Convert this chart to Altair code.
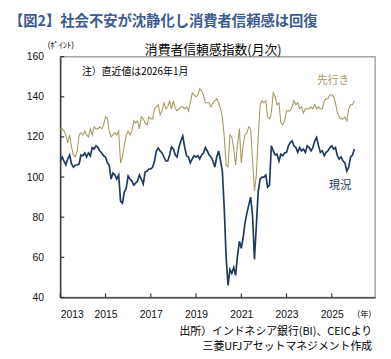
import altair as alt
import pandas as pd

# 先行き (expectations index), monthly 2013-01 .. 2026-01
expect = (
    [124, 124, 123, 121, 117, 121, 115, 111, 110, 113, 121, 122]      # 2013
    + [121, 123, 121, 120, 124, 121, 125, 124, 124, 125, 124, 126]    # 2014
    + [130, 129, 123, 120, 121, 122, 121, 123, 107, 110, 116, 121]    # 2015
    + [123, 121, 123, 128, 127, 128, 124, 130, 129, 127, 126, 130]    # 2016
    + [129, 129, 134, 135, 136, 131, 133, 137, 134, 135, 138, 134]    # 2017
    + [138, 134, 133, 134, 135, 135, 134, 135, 133, 137, 142, 141]    # 2018
    + [140, 141, 144, 143, 141, 137, 137, 137, 135, 137, 138, 139]    # 2019
    + [137, 134, 130, 120, 106, 105, 121, 120, 114, 106, 116, 124]    # 2020
    + [107, 116, 121, 122, 125, 124, 109, 93, 101, 120, 136, 138]     # 2021
    + [137, 138, 130, 129, 132, 142, 140, 136, 137, 127, 126, 128]    # 2022
    + [133, 133, 133, 135, 138, 136, 137, 134, 135, 132, 134, 134]    # 2023
    + [134, 135, 134, 136, 134, 135, 134, 134, 138, 139, 139, 141]    # 2024
    + [141, 140, 137, 132, 130, 129, 129, 130, 128, 134, 136, 136]    # 2025
    + [138]                                                           # 2026
)

# 現況 (current conditions index), monthly 2013-01 .. 2026-01
current = (
    [108, 110, 108, 106, 109, 111, 106.5, 105, 106, 106, 106.5, 111]              # 2013
    + [110.6, 112, 110, 112, 110.6, 114.7, 114, 115.6, 114.7, 113, 112, 110.6]    # 2014
    + [110, 107, 106, 99, 102, 101, 99, 101, 88, 87, 92.5, 94.5]                  # 2015
    + [100.5, 99, 98, 96, 97, 98, 101, 99, 96.5, 102.5, 103, 104]                 # 2016
    + [104, 105, 108, 113, 114.5, 113, 112, 110, 108, 108, 111, 115]              # 2017
    + [114, 111, 110, 115, 118, 120.5, 115, 110.6, 110, 107, 109, 110.6]          # 2018
    + [110, 110.6, 109, 111, 112, 114.7, 113, 111, 110, 108, 105, 110]            # 2019
    + [113, 108, 103, 84, 60, 46, 54, 52, 55, 51, 61, 68]                         # 2020
    + [64.5, 70, 77, 82, 86, 90, 81, 59, 76, 93, 99, 100]                         # 2021
    + [100, 101, 95, 96, 115.6, 113, 111, 111.4, 108, 111.4, 110.6, 112]          # 2022
    + [112.3, 115.6, 117.2, 118, 115.6, 114.7, 112.3, 114.7, 113, 113.9, 112.3, 115.6]  # 2023
    + [114.7, 113.1, 114.7, 118, 119.7, 115.6, 112.3, 113.1, 110.6, 112.3, 113.1, 114.7]  # 2024
    + [115.6, 113.9, 114.7, 110.6, 109, 110, 108, 107, 103, 105, 110, 111]        # 2025
    + [114]                                                                        # 2026
)

y_ticks = [40, 60, 80, 100, 120, 140, 160]
x_tick_years = [2013, 2015, 2017, 2019, 2021, 2023, 2025]

dates = pd.date_range("2013-01-01", periods=len(expect), freq="MS")
df = pd.DataFrame({"date": dates, "先行き": expect, "現況": current})

GOLD = "#a89a62"
NAVY = "#1f3a60"
JP = "Noto Sans CJK JP"
NUM = "Liberation Sans"
W, H = 319, 244

xscale = alt.Scale(domain=["2013-01-01", "2026-12-01"], nice=False)
yscale = alt.Scale(domain=[40, 160], nice=False)
xaxis = alt.Axis(title=None, format="%Y", labelPadding=12,
                 values=[alt.DateTime(year=y, month=1, date=1) for y in x_tick_years])
yaxis = alt.Axis(title=None, values=y_ticks, labelPadding=17)

base = alt.Chart(df)
line_exp = base.mark_line(color=GOLD, strokeWidth=1.1).encode(
    x=alt.X("date:T", scale=xscale, axis=xaxis),
    y=alt.Y("先行き:Q", scale=yscale, axis=yaxis),
)
line_cur = base.mark_line(color=NAVY, strokeWidth=1.7).encode(
    x=alt.X("date:T", scale=xscale, axis=xaxis),
    y=alt.Y("現況:Q", scale=yscale, axis=yaxis),
)

ytick_df = pd.DataFrame({"v": y_ticks})
ytick_rules = alt.Chart(ytick_df).mark_rule(color="#333", strokeWidth=1.2).encode(
    y=alt.Y("v:Q", scale=yscale, axis=yaxis), x=alt.value(0), x2=alt.value(4)
)
xtick_df = pd.DataFrame({"date": pd.to_datetime([f"{y}-01-01" for y in x_tick_years])})
xtick_rules = alt.Chart(xtick_df).mark_rule(color="#333", strokeWidth=1.2).encode(
    x=alt.X("date:T", scale=xscale, axis=xaxis), y=alt.value(H - 4), y2=alt.value(H)
)

dummy = pd.DataFrame({"a": [0]})


def label(txt, x, y, size, color="#000", align="left", weight="normal", font=JP):
    return alt.Chart(dummy).mark_text(
        text=txt, align=align, baseline="alphabetic", fontSize=size,
        color=color, fontWeight=weight, font=font,
    ).encode(x=alt.value(x), y=alt.value(y))


texts = [
    label("【図2】社会不安が沈静化し消費者信頼感は回復", -52, -31, 14.5, "#3b5b92", weight="bold"),
    label("(ﾎﾟｲﾝﾄ)", -13, -9, 8.5),
    label("消費者信頼感指数(月次)", 155, -3, 13, align="center"),
    label("注）直近値は2026年1月", 22, 19, 10),
    label("先行き", 260, 28, 11, GOLD),
    label("現況", 272, 134, 11.5, NAVY),
    label("(年)", 301, 264, 8.5),
    label("出所）インドネシア銀行(BI)、CEICより", 316, 282, 11, align="right"),
    label("三菱UFJアセットマネジメント作成", 316, 297, 11, align="right"),
]

chart = alt.layer(line_exp, line_cur, ytick_rules, xtick_rules, *texts).properties(
    width=W, height=H,
    padding={"left": 53, "top": 47, "right": 8, "bottom": 56},
    autosize=alt.AutoSizeParams(type="none"),
).configure_view(
    stroke="#a6a6a6", strokeWidth=1.5
).configure_axis(
    grid=False, ticks=False, tickSize=0, domainColor="#333", domainWidth=1.3,
    labelFont=NUM, labelFontSize=10.5, labelColor="#111",
)

chart.save("out.html", embed_options={"renderer": "svg", "actions": False})
